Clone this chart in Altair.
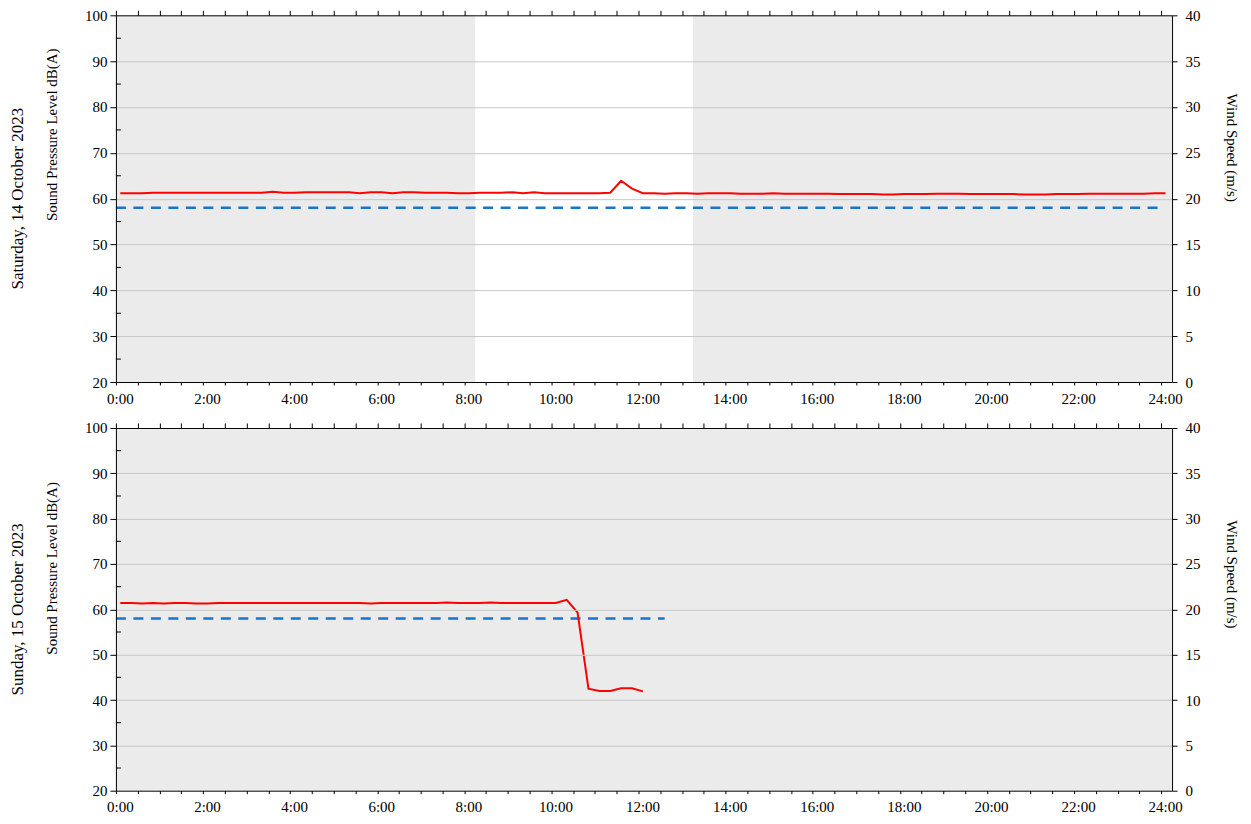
import altair as alt
import pandas as pd

FONT = "Liberation Serif"
X_MAX = 24.25

# ---- data ----
sat_times = [round(0.1 + 0.25 * k, 2) for k in range(97)]
sat_spl = [
    61.2, 61.2, 61.2, 61.3, 61.3, 61.3, 61.3, 61.3, 61.3, 61.3,
    61.3, 61.3, 61.3, 61.3, 61.5, 61.3, 61.3, 61.4, 61.4, 61.4,
    61.4, 61.4, 61.2, 61.4, 61.4, 61.2, 61.4, 61.4, 61.3, 61.3,
    61.3, 61.2, 61.2, 61.3, 61.3, 61.3, 61.4, 61.2, 61.4, 61.2,
    61.2, 61.2, 61.2, 61.2, 61.2, 61.3, 63.9, 62.2, 61.2, 61.2,
    61.1, 61.2, 61.2, 61.1, 61.2, 61.2, 61.2, 61.1, 61.1, 61.1,
    61.2, 61.1, 61.1, 61.1, 61.1, 61.1, 61.0, 61.0, 61.0, 61.0,
    60.9, 60.9, 61.0, 61.0, 61.0, 61.1, 61.1, 61.1, 61.0, 61.0,
    61.0, 61.0, 61.0, 60.9, 60.9, 60.9, 61.0, 61.0, 61.0, 61.1,
    61.1, 61.1, 61.1, 61.1, 61.1, 61.2, 61.2,
]
sun_times = [round(0.1 + 0.25 * k, 2) for k in range(49)]
sun_spl = [
    61.4, 61.4, 61.3, 61.4, 61.3, 61.4, 61.4, 61.3, 61.3, 61.4,
    61.4, 61.4, 61.4, 61.4, 61.4, 61.4, 61.4, 61.4, 61.4, 61.4,
    61.4, 61.4, 61.4, 61.3, 61.4, 61.4, 61.4, 61.4, 61.4, 61.4,
    61.5, 61.4, 61.4, 61.4, 61.5, 61.4, 61.4, 61.4, 61.4, 61.4,
    61.4, 62.1, 59.3, 42.5, 42.0, 42.0, 42.6, 42.6, 41.9,
]
limit_db = 58
sat_limit_span = [0.0, 24.0]
sun_limit_span = [0.0, 12.6]
sat_window = [8.25, 13.25]  # unshaded (white) period

spl_ticks = [20, 30, 40, 50, 60, 70, 80, 90, 100]
spl_minor = [25, 35, 45, 55, 65, 75, 85, 95]
wind_ticks = [0, 5, 10, 15, 20, 25, 30, 35, 40]
time_ticks = [k * 0.5 for k in range(49)]

WIDTH = 1057


def panel(day_title, times, spl, limit_span, window, height, left_title_y, right_title_y):
    xscale = alt.Scale(domain=[0, X_MAX], nice=False, zero=False)
    yscale = alt.Scale(domain=[20, 100], nice=False, zero=False)

    x_bottom = alt.Axis(
        values=time_ticks, labelExpr="datum.value % 2 == 0 ? format(datum.value, 'd') + ':00' : ''",
        labelOverlap=False, labelFlush=False, tickSize=3, labelPadding=6, labelOffset=4,
        grid=False, title=None, zindex=1,
    )
    y_left = alt.Axis(
        values=spl_ticks, tickSize=6, labelPadding=3, grid=True,
        gridColor={"condition": {"test": "datum.value <= 20 || datum.value >= 100", "value": "transparent"},
                   "value": "#c8c8c8"},
        title="Sound Pressure Level dB(A)", titleAngle=270, titleX=-64, titleY=left_title_y,
        titleBaseline="middle", titleAlign="center", zindex=1,
    )
    X = alt.X("t:Q", scale=xscale, axis=x_bottom)
    Y = alt.Y("spl:Q", scale=yscale, axis=y_left)

    layers = []
    if window is not None:
        wdf = pd.DataFrame({"t": [window[0]], "t2": [window[1]]})
        layers.append(
            alt.Chart(wdf).mark_rect(color="white").encode(x=X, x2="t2:Q")
        )
    ldf = pd.DataFrame({"t": limit_span, "spl": [limit_db, limit_db]})
    layers.append(
        alt.Chart(ldf).mark_line(color="#1874cd", strokeWidth=2.5, strokeDash=[10, 7.5]).encode(x=X, y=Y)
    )
    sdf = pd.DataFrame({"t": times, "spl": spl})
    layers.append(
        alt.Chart(sdf).mark_line(color="#ff0000", strokeWidth=2).encode(x=X, y=Y)
    )
    mdf = pd.DataFrame({"spl": spl_minor})
    layers.append(
        alt.Chart(mdf).mark_rule(color="black", strokeWidth=1).encode(
            y=Y, x=alt.value(0), x2=alt.value(5)
        )
    )
    inner = alt.layer(*layers)

    wind_df = pd.DataFrame({"t": [0.0], "wind": [0.0]})
    wind = alt.Chart(wind_df).mark_point(opacity=0).encode(
        x=alt.X("t:Q", scale=xscale, axis=alt.Axis(
            orient="top", values=time_ticks, labels=False, tickSize=5, grid=False, title=None, zindex=1)),
        y=alt.Y("wind:Q", scale=alt.Scale(domain=[0, 40], nice=False, zero=False), axis=alt.Axis(
            orient="right", values=wind_ticks, tickSize=5, labelPadding=8, grid=False,
            title="Wind Speed (m/s)", titleAngle=90, titleX=59, titleY=right_title_y,
            titleBaseline="middle", titleAlign="center", zindex=1)),
    )

    return alt.layer(inner, wind).resolve_scale(y="independent").resolve_axis(
        x="independent", y="independent"
    ).properties(
        width=WIDTH, height=height,
        title=alt.TitleParams(
            text=day_title, orient="left", anchor="middle", font=FONT, fontSize=17,
            fontWeight="normal", color="black", offset=18,
        ),
    )


top = panel("Saturday, 14 October 2023", sat_times, sat_spl, sat_limit_span, sat_window, 367, 119, 132)
bottom = panel("Sunday, 15 October 2023", sun_times, sun_spl, sun_limit_span, None, 363, 140, 146)

chart = alt.vconcat(top, bottom, spacing=15).properties(
    padding={"left": 0, "top": 0, "right": 5, "bottom": 0}
).configure_view(
    fill="#ebebeb", stroke=None
).configure_axis(
    labelFont=FONT, labelFontSize=15, labelColor="black",
    titleFont=FONT, titleFontSize=15, titleFontWeight="normal", titleColor="black",
    domainColor="black", domainWidth=1, tickColor="black", tickWidth=1,
)

chart.save("out.html", embed_options={"renderer": "svg", "actions": False})
